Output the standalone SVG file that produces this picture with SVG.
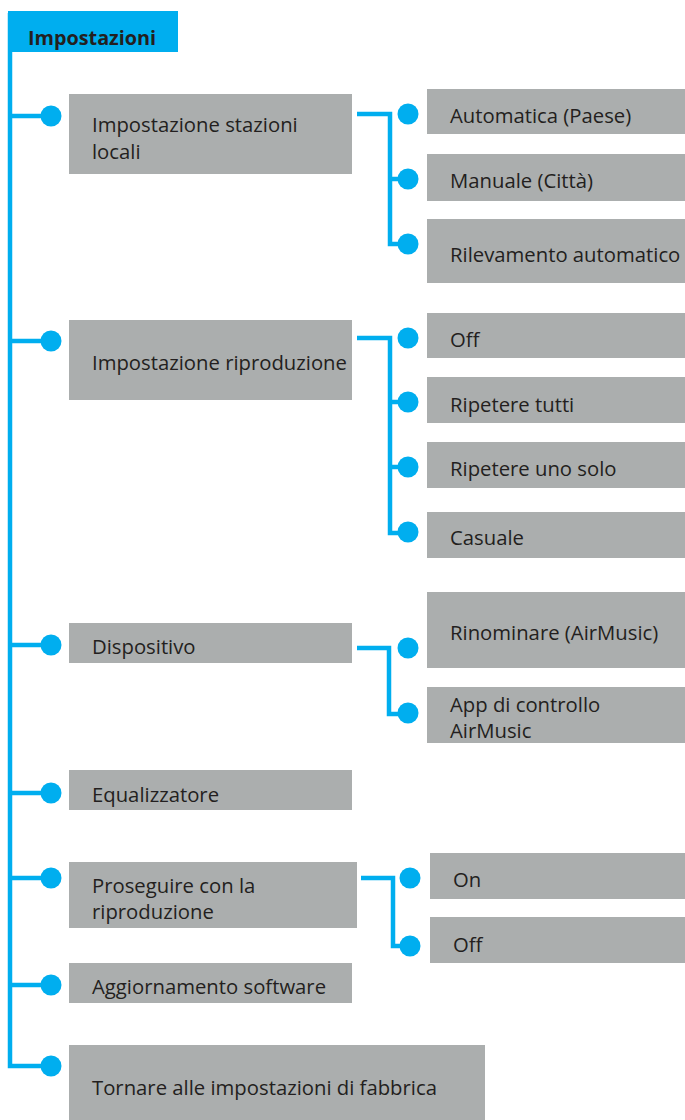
<svg xmlns="http://www.w3.org/2000/svg" width="685" height="1120" viewBox="0 0 685 1120">
<style>
.box{fill:#abaeae}
.t{font-family:"Open Sans","Noto Sans",sans-serif;font-size:20.3px;fill:#231f20}
.title{font-family:"Open Sans","Noto Sans",sans-serif;font-size:19.8px;font-weight:bold;fill:#231f20}
.ln{stroke:#00aeef;stroke-width:4.5;fill:none}
.dot{fill:#00aeef}
</style>
<rect width="685" height="1120" fill="#ffffff"/>
<g id="connectors">
<path class="ln" d="M10 13 V1066 H51"/>
<path class="ln" d="M10 116 H51 M10 341 H51 M10 645 H51 M10 793 H51 M10 878 H51 M10 985 H51"/>
<path class="ln" d="M357 114 H390 V244 H408 M390 179 H408"/>
<path class="ln" d="M357 338 H390 V533 H408 M390 402 H408 M390 467 H408"/>
<path class="ln" d="M357 648 H389 V714 H408"/>
<path class="ln" d="M361 878 H393 V946 H410"/>
<g class="dot">
<circle cx="51" cy="116" r="10.5"/><circle cx="51" cy="341" r="10.5"/><circle cx="51" cy="645" r="10.5"/><circle cx="51" cy="793" r="10.5"/><circle cx="51" cy="878" r="10.5"/><circle cx="51" cy="985" r="10.5"/><circle cx="51" cy="1066" r="10.5"/>
<circle cx="408" cy="114" r="10.5"/><circle cx="408" cy="179" r="10.5"/><circle cx="408" cy="244" r="10.5"/>
<circle cx="408" cy="338" r="10.5"/><circle cx="408" cy="402" r="10.5"/><circle cx="408" cy="467" r="10.5"/><circle cx="408" cy="532" r="10.5"/>
<circle cx="408" cy="648" r="10.5"/><circle cx="408" cy="713" r="10.5"/>
<circle cx="410" cy="878" r="10.5"/><circle cx="410" cy="946" r="10.5"/>
</g>
</g>
<g id="root"><rect x="8" y="11" width="170" height="41" fill="#00aeef"/><text class="title" x="28" y="45">Impostazioni</text></g>
<g id="n1"><rect class="box" x="69" y="94" width="283" height="80"/><text class="t" x="92" y="132">Impostazione stazioni</text><text class="t" x="92" y="159">locali</text></g>
<g id="n1a"><rect class="box" x="427" y="89" width="258" height="45"/><text class="t" x="450" y="123">Automatica (Paese)</text></g>
<g id="n1b"><rect class="box" x="427" y="154" width="258" height="47"/><text class="t" x="450" y="188">Manuale (Città)</text></g>
<g id="n1c"><rect class="box" x="427" y="219" width="258" height="64"/><text class="t" x="450" y="262">Rilevamento automatico</text></g>
<g id="n2"><rect class="box" x="69" y="320" width="283" height="80"/><text class="t" x="92" y="370">Impostazione riproduzione</text></g>
<g id="n2a"><rect class="box" x="427" y="313" width="258" height="45"/><text class="t" x="450" y="347">Off</text></g>
<g id="n2b"><rect class="box" x="427" y="377" width="258" height="46"/><text class="t" x="450" y="412">Ripetere tutti</text></g>
<g id="n2c"><rect class="box" x="427" y="442" width="258" height="46"/><text class="t" x="450" y="476">Ripetere uno solo</text></g>
<g id="n2d"><rect class="box" x="427" y="512" width="258" height="46"/><text class="t" x="450" y="545">Casuale</text></g>
<g id="n3"><rect class="box" x="69" y="623" width="283" height="40"/><text class="t" x="92" y="654">Dispositivo</text></g>
<g id="n3a"><rect class="box" x="427" y="592" width="258" height="76"/><text class="t" x="450" y="640">Rinominare (AirMusic)</text></g>
<g id="n3b"><rect class="box" x="427" y="687" width="258" height="56"/><text class="t" x="450" y="712">App di controllo</text><text class="t" x="450" y="738">AirMusic</text></g>
<g id="n4"><rect class="box" x="69" y="770" width="283" height="40"/><text class="t" x="92" y="802">Equalizzatore</text></g>
<g id="n5"><rect class="box" x="69" y="862" width="288" height="66"/><text class="t" x="92" y="893">Proseguire con la</text><text class="t" x="92" y="919">riproduzione</text></g>
<g id="n5a"><rect class="box" x="430" y="853" width="255" height="46"/><text class="t" x="453" y="887">On</text></g>
<g id="n5b"><rect class="box" x="430" y="917" width="255" height="46"/><text class="t" x="453" y="952">Off</text></g>
<g id="n6"><rect class="box" x="69" y="963" width="283" height="40"/><text class="t" x="92" y="994">Aggiornamento software</text></g>
<g id="n7"><rect class="box" x="69" y="1045" width="416" height="75"/><text class="t" x="92" y="1095">Tornare alle impostazioni di fabbrica</text></g>
</svg>
